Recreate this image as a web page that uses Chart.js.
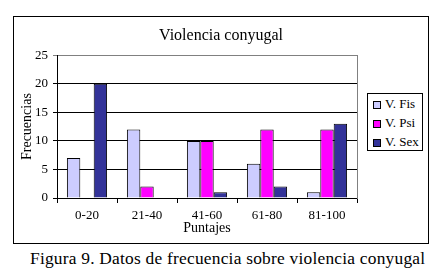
<!DOCTYPE html>
<html>
<head>
<meta charset="utf-8">
<script src="https://cdn.jsdelivr.net/npm/chart.js@4/dist/chart.umd.min.js"></script>
<style>
  body { margin: 0; background: #fff; width: 443px; height: 275px; position: relative; overflow: hidden; }
  #box { position: absolute; left: 13px; top: 16px; width: 414px; height: 226px; border: 1px solid #000; }
  #caption { position: absolute; left: 30px; top: 248px; font: 17.4px "Liberation Serif", serif; letter-spacing: 0.22px; color: #000; white-space: nowrap; }
  #leyenda { position: absolute; left: 367px; top: 93px; width: 54px; height: 56px; border: 1px solid #000; background: #fff;
             font: 13px "Liberation Serif", serif; color: #000; }
  #leyenda div { position: absolute; left: 5px; height: 19px; line-height: 19px; white-space: nowrap; }
  #leyenda span { display: inline-block; width: 6px; height: 6px; border: 1px solid #000; margin-right: 4px; vertical-align: -1px; }
</style>
</head>
<body>
<div id="box"><canvas id="chart"></canvas></div>
<div id="leyenda"></div>
<div id="caption">Figura 9. Datos de frecuencia sobre violencia conyugal</div>
<script>
const categorias = ["0-20", "21-40", "41-60", "61-80", "81-100"];
const vFis = [7, 12, 10, 6, 1];
const vPsi = [0, 2, 10, 12, 12];
const vSex = [20, 0, 1, 2, 13];
const serif = "'Liberation Serif', 'Times New Roman', serif";

const grafico = new Chart(document.getElementById("chart"), {
    type: "bar",
    data: {
        labels: categorias,
        datasets: [
            { label: "V. Fis", data: vFis, backgroundColor: "#CCCCFF", borderColor: "#000", borderWidth: 1 },
            { label: "V. Psi", data: vPsi, backgroundColor: "#FF00FF", borderColor: "#000", borderWidth: 1 },
            { label: "V. Sex", data: vSex, backgroundColor: "#333399", borderColor: "#000", borderWidth: 1 }
        ]
    },
    options: {
        responsive: true,
        maintainAspectRatio: false,
        animation: false,
        layout: { padding: { left: 0, right: 0, top: 0, bottom: 8 } },
        datasets: { bar: { categoryPercentage: 0.67, barPercentage: 1 } },
        plugins: {
            title: {
                display: true,
                text: "Violencia conyugal",
                color: "#000",
                font: { family: serif, size: 16, weight: "normal" },
                padding: { top: 9, bottom: 10 }
            },
            legend: { display: false },
            tooltip: { enabled: false }
        },
        scales: {
            x: {
                grid: { offset: true, drawOnChartArea: false, color: "#000", tickLength: 5 },
                border: { color: "#000" },
                ticks: { color: "#000", font: { family: serif, size: 13, lineHeight: 1 }, padding: 6 },
                title: { display: true, text: "Puntajes", color: "#000", font: { family: serif, size: 14, lineHeight: 1 }, padding: { top: -7, bottom: 0 } }
            },
            y: {
                min: 0,
                max: 25,
                afterFit(scale) { scale.width = 43; },
                ticks: { stepSize: 5, color: "#000", font: { family: serif, size: 13 }, padding: 5 },
                grid: { color: c => c.tick.value === 25 ? "#808080" : "#000", tickLength: 4 },
                border: { color: "#000" },
                title: { display: true, text: "Frecuencias", color: "#000", font: { family: serif, size: 14 }, padding: { top: 5, bottom: 2 } }
            },
            // eje vacio a la derecha: deja sitio a la leyenda y traza el borde gris
            derecha: {
                position: "right",
                min: 0,
                max: 25,
                afterFit(scale) { scale.width = 71; },
                ticks: { display: false },
                grid: { drawOnChartArea: false, tickLength: 0 },
                border: { color: "#808080" }
            }
        }
    }
});

// leyenda con los mismos datasets del grafico
const leyenda = document.getElementById("leyenda");
grafico.data.datasets.forEach((ds, i) => {
    const fila = document.createElement("div");
    fila.style.top = (0 + i * 19) + "px";
    fila.innerHTML = `<span style="background:${ds.backgroundColor}"></span>${ds.label}`;
    leyenda.appendChild(fila);
});
</script>
</body>
</html>
